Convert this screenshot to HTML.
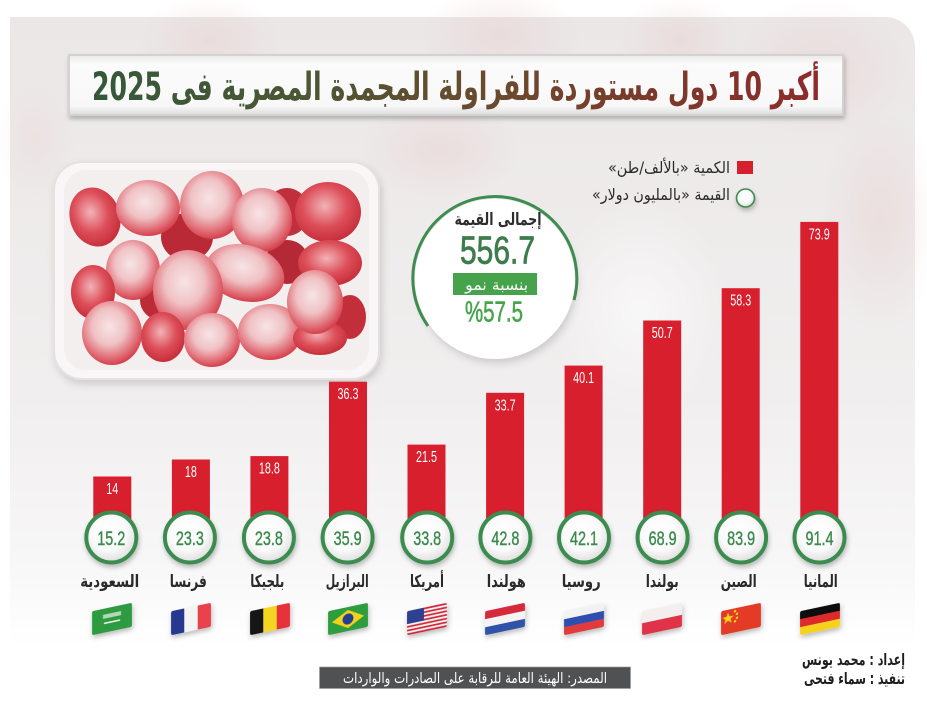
<!DOCTYPE html>
<html><head><meta charset="utf-8">
<style>
html,body{margin:0;padding:0;background:#fff;width:927px;height:720px;overflow:hidden}
svg{display:block}
.ar{font-family:"DejaVu Sans","Liberation Sans",sans-serif}
.num{font-family:"Liberation Sans",sans-serif}
</style></head><body>
<svg width="927" height="720" viewBox="0 0 927 720" xmlns="http://www.w3.org/2000/svg">
<defs>
 <linearGradient id="panel" gradientUnits="userSpaceOnUse" x1="0" y1="17" x2="0" y2="700">
  <stop offset="0" stop-color="#ebe7e7"/>
  <stop offset="0.55" stop-color="#f0eeee"/>
  <stop offset="0.8" stop-color="#f8f7f7"/>
  <stop offset="0.92" stop-color="#ffffff"/>
 </linearGradient>
 <linearGradient id="tbox" x1="0" y1="0" x2="0" y2="1">
  <stop offset="0" stop-color="#e9e9e9"/>
  <stop offset="0.15" stop-color="#fbfbfb"/>
  <stop offset="0.85" stop-color="#f8f8f8"/>
  <stop offset="1" stop-color="#dcdcdc"/>
 </linearGradient>
 <linearGradient id="tg" gradientUnits="userSpaceOnUse" x1="92" y1="0" x2="820" y2="0">
  <stop offset="0" stop-color="#33593a"/>
  <stop offset="0.28" stop-color="#4b5634"/>
  <stop offset="0.55" stop-color="#6a4a2e"/>
  <stop offset="0.8" stop-color="#7e372b"/>
  <stop offset="1" stop-color="#8f2a2b"/>
 </linearGradient>
 <radialGradient id="cf" cx="45%" cy="40%" r="60%">
  <stop offset="0" stop-color="#ffffff"/>
  <stop offset="0.6" stop-color="#fafafa"/>
  <stop offset="1" stop-color="#dedede"/>
 </radialGradient>
 <radialGradient id="bf" cx="45%" cy="40%" r="62%">
  <stop offset="0" stop-color="#f7e4e5"/>
  <stop offset="0.45" stop-color="#f0c2c5"/>
  <stop offset="0.8" stop-color="#e06a73"/>
  <stop offset="1" stop-color="#d23a46"/>
 </radialGradient>
 <radialGradient id="br" cx="45%" cy="40%" r="62%">
  <stop offset="0" stop-color="#f2b3b7"/>
  <stop offset="0.55" stop-color="#dd4f5a"/>
  <stop offset="1" stop-color="#c42c38"/>
 </radialGradient>
 <radialGradient id="faint" cx="50%" cy="50%" r="50%">
  <stop offset="0" stop-color="#e6c6c6" stop-opacity="0.35"/>
  <stop offset="1" stop-color="#e6c6c6" stop-opacity="0"/>
 </radialGradient>
 <radialGradient id="pale" cx="50%" cy="50%" r="50%">
  <stop offset="0" stop-color="#ffffff" stop-opacity="0.6"/>
  <stop offset="1" stop-color="#ffffff" stop-opacity="0"/>
 </radialGradient>
 <filter id="sh" x="-30%" y="-30%" width="160%" height="170%">
  <feDropShadow dx="1" dy="3" stdDeviation="2.5" flood-color="#000" flood-opacity="0.25"/>
 </filter>
 <filter id="sh2" x="-20%" y="-20%" width="140%" height="160%">
  <feDropShadow dx="2" dy="4" stdDeviation="4" flood-color="#000" flood-opacity="0.15"/>
 </filter>
 <clipPath id="fc"><rect x="-20" y="-12" width="40" height="24" rx="2"/></clipPath>
</defs>

<!-- background panel -->
<path d="M10,17 H885 A30,30 0 0 1 915,47 V720 H10 Z" fill="url(#panel)"/>
<!-- faint strawberries -->
<ellipse cx="210" cy="40" rx="70" ry="45" fill="url(#faint)"/>
<ellipse cx="500" cy="35" rx="80" ry="50" fill="url(#faint)"/>
<ellipse cx="680" cy="40" rx="60" ry="45" fill="url(#faint)"/>
<ellipse cx="820" cy="70" rx="90" ry="70" fill="url(#faint)"/>
<ellipse cx="880" cy="220" rx="60" ry="110" fill="url(#faint)"/>
<ellipse cx="35" cy="140" rx="40" ry="60" fill="url(#faint)" opacity="0.6"/>
<ellipse cx="440" cy="150" rx="80" ry="50" fill="url(#faint)"/>
<ellipse cx="640" cy="310" rx="90" ry="110" fill="url(#pale)"/>

<!-- title box -->
<rect x="69" y="55" width="774" height="60" fill="url(#tbox)" stroke="#d2d2d2" stroke-width="2" filter="url(#sh)"/>
<text class="ar" x="456" y="100" font-size="39" font-weight="bold" text-anchor="middle" direction="rtl" textLength="728" lengthAdjust="spacingAndGlyphs" fill="url(#tg)">أكبر 10 دول مستوردة للفراولة المجمدة المصرية فى 2025</text>

<!-- strawberry container -->
<rect x="54" y="162" width="325" height="217" rx="28" fill="#f8f6f6" stroke="#e6e1e1" stroke-width="2" filter="url(#sh2)"/>
<rect x="64" y="170" width="305" height="200" rx="22" fill="#f3efef"/>
<g>
 <ellipse cx="187" cy="237" rx="26" ry="24" fill="#b92a36"/>
 <ellipse cx="287" cy="212" rx="22" ry="24" fill="#c0303c"/>
 <ellipse cx="350" cy="317" rx="16" ry="22" fill="#c22f3b"/>
 <ellipse cx="287" cy="262" rx="22" ry="22" fill="#b52835"/>
 <ellipse cx="160" cy="300" rx="20" ry="20" fill="#bb2c38"/>
 <ellipse cx="95" cy="217" rx="25" ry="30" fill="url(#br)" transform="rotate(-20 95 217)"/>
 <ellipse cx="148" cy="208" rx="32" ry="28" fill="url(#bf)"/>
 <ellipse cx="212" cy="205" rx="32" ry="34" fill="url(#bf)"/>
 <ellipse cx="262" cy="220" rx="30" ry="32" fill="url(#bf)"/>
 <ellipse cx="328" cy="212" rx="33" ry="30" fill="url(#br)"/>
 <ellipse cx="133" cy="270" rx="27" ry="30" fill="url(#bf)"/>
 <ellipse cx="93" cy="292" rx="22" ry="27" fill="url(#br)"/>
 <ellipse cx="330" cy="263" rx="32" ry="23" fill="url(#br)"/>
 <ellipse cx="245" cy="273" rx="40" ry="28" fill="url(#bf)" transform="rotate(15 245 273)"/>
 <ellipse cx="188" cy="290" rx="35" ry="40" fill="url(#bf)"/>
 <ellipse cx="112" cy="333" rx="30" ry="32" fill="url(#bf)"/>
 <ellipse cx="163" cy="337" rx="22" ry="25" fill="url(#br)"/>
 <ellipse cx="212" cy="340" rx="28" ry="27" fill="url(#bf)"/>
 <ellipse cx="270" cy="332" rx="32" ry="28" fill="url(#bf)"/>
 <ellipse cx="320" cy="338" rx="27" ry="17" fill="url(#br)"/>
 <ellipse cx="315" cy="302" rx="28" ry="32" fill="url(#bf)"/>
</g>

<!-- legend -->
<rect x="737" y="161" width="16" height="13" fill="#d6202e"/>
<text class="ar" x="669" y="173" font-size="16" text-anchor="middle" direction="rtl" textLength="122" lengthAdjust="spacingAndGlyphs" fill="#2a2a2a">الكمية «بالألف/طن»</text>
<circle cx="745.5" cy="198" r="9" fill="url(#cf)" stroke="#3e8c50" stroke-width="1.6" filter="url(#sh)"/>
<text class="ar" x="661" y="200" font-size="16" text-anchor="middle" direction="rtl" textLength="138" lengthAdjust="spacingAndGlyphs" fill="#2a2a2a">القيمة «بالمليون دولار»</text>

<!-- total circle -->
<circle cx="495" cy="279" r="80" fill="#ffffff" filter="url(#sh2)"/>
<path d="M428,326 A82,82 0 1 1 574,300" fill="none" stroke="#3e8c50" stroke-width="3"/>
<text class="ar" x="498" y="225" font-size="17" font-weight="bold" text-anchor="middle" direction="rtl" textLength="87" lengthAdjust="spacingAndGlyphs" fill="#2d2d2d">إجمالى القيمة</text>
<text class="num" x="497.5" y="263.5" font-size="39" text-anchor="middle" textLength="75" lengthAdjust="spacingAndGlyphs" fill="#3e7c4b" stroke="#3e7c4b" stroke-width="0.8">556.7</text>
<rect x="453" y="273" width="84" height="22" fill="#46a34b"/>
<text class="ar" x="496.7" y="290" font-size="15" text-anchor="middle" direction="rtl" textLength="63" lengthAdjust="spacingAndGlyphs" fill="#ffffff">بنسبة نمو</text>
<text class="num" x="494" y="321.5" font-size="29" text-anchor="middle" textLength="58" lengthAdjust="spacingAndGlyphs" fill="#47a54c" stroke="#47a54c" stroke-width="0.6">%57.5</text>

<!-- bars -->
<g fill="#d71f2e">
 <rect x="93.3" y="476.5" width="38" height="62"/>
 <rect x="171.9" y="459.5" width="38" height="79"/>
 <rect x="250.4" y="456.1" width="38" height="82"/>
 <rect x="329.0" y="381.7" width="38" height="157"/>
 <rect x="407.5" y="444.6" width="38" height="94"/>
 <rect x="486.1" y="392.8" width="38" height="146"/>
 <rect x="564.6" y="365.6" width="38" height="173"/>
 <rect x="643.2" y="320.5" width="38" height="218"/>
 <rect x="721.7" y="288.2" width="38" height="250"/>
 <rect x="800.3" y="221.9" width="38" height="317"/>
</g>
<g class="num" font-size="16" fill="#ffffff" text-anchor="middle">
 <text x="112.3" y="494" textLength="12" lengthAdjust="spacingAndGlyphs">14</text>
 <text x="190.9" y="477" textLength="12" lengthAdjust="spacingAndGlyphs">18</text>
 <text x="269.4" y="473.6" textLength="21" lengthAdjust="spacingAndGlyphs">18.8</text>
 <text x="348.0" y="399.2" textLength="21" lengthAdjust="spacingAndGlyphs">36.3</text>
 <text x="426.5" y="462.1" textLength="21" lengthAdjust="spacingAndGlyphs">21.5</text>
 <text x="505.1" y="410.3" textLength="21" lengthAdjust="spacingAndGlyphs">33.7</text>
 <text x="583.6" y="383.1" textLength="21" lengthAdjust="spacingAndGlyphs">40.1</text>
 <text x="662.2" y="338" textLength="21" lengthAdjust="spacingAndGlyphs">50.7</text>
 <text x="740.7" y="305.7" textLength="21" lengthAdjust="spacingAndGlyphs">58.3</text>
 <text x="819.3" y="239.4" textLength="21" lengthAdjust="spacingAndGlyphs">73.9</text>
</g>

<!-- value circles -->
<g fill="url(#cf)" stroke="#3e8c50" stroke-width="4" filter="url(#sh)">
 <circle cx="111.3" cy="537.5" r="25"/>
 <circle cx="189.9" cy="537.5" r="25"/>
 <circle cx="268.9" cy="537.5" r="25"/>
 <circle cx="347.6" cy="537.5" r="25"/>
 <circle cx="427.2" cy="537.5" r="25"/>
 <circle cx="505.4" cy="537.5" r="25"/>
 <circle cx="584.0" cy="537.5" r="25"/>
 <circle cx="662.6" cy="537.5" r="25"/>
 <circle cx="741.1" cy="537.5" r="25"/>
 <circle cx="819.5" cy="537.5" r="25"/>
</g>
<g class="num" font-size="19" fill="#3b8a4e" stroke="#3b8a4e" stroke-width="0.4" text-anchor="middle">
 <text x="111.3" y="545" textLength="28" lengthAdjust="spacingAndGlyphs">15.2</text>
 <text x="189.9" y="545" textLength="28" lengthAdjust="spacingAndGlyphs">23.3</text>
 <text x="268.9" y="545" textLength="28" lengthAdjust="spacingAndGlyphs">23.8</text>
 <text x="347.6" y="545" textLength="28" lengthAdjust="spacingAndGlyphs">35.9</text>
 <text x="427.2" y="545" textLength="28" lengthAdjust="spacingAndGlyphs">33.8</text>
 <text x="505.4" y="545" textLength="28" lengthAdjust="spacingAndGlyphs">42.8</text>
 <text x="584.0" y="545" textLength="28" lengthAdjust="spacingAndGlyphs">42.1</text>
 <text x="662.6" y="545" textLength="28" lengthAdjust="spacingAndGlyphs">68.9</text>
 <text x="741.1" y="545" textLength="28" lengthAdjust="spacingAndGlyphs">83.9</text>
 <text x="819.5" y="545" textLength="28" lengthAdjust="spacingAndGlyphs">91.4</text>
</g>

<!-- country names -->
<g class="ar" font-size="17" font-weight="bold" fill="#2a2a2a" text-anchor="middle" direction="rtl">
 <text x="109.7" y="587" textLength="59" lengthAdjust="spacingAndGlyphs">السعودية</text>
 <text x="188.3" y="587" textLength="37" lengthAdjust="spacingAndGlyphs">فرنسا</text>
 <text x="267.3" y="587" textLength="34" lengthAdjust="spacingAndGlyphs">بلجيكا</text>
 <text x="347.2" y="587" textLength="43" lengthAdjust="spacingAndGlyphs">البرازيل</text>
 <text x="427" y="587" textLength="34" lengthAdjust="spacingAndGlyphs">أمريكا</text>
 <text x="506.3" y="587" textLength="39" lengthAdjust="spacingAndGlyphs">هولندا</text>
 <text x="581.2" y="587" textLength="39" lengthAdjust="spacingAndGlyphs">روسيا</text>
 <text x="662.2" y="587" textLength="33" lengthAdjust="spacingAndGlyphs">بولندا</text>
 <text x="738.7" y="587" textLength="36" lengthAdjust="spacingAndGlyphs">الصين</text>
 <text x="820.8" y="587" textLength="34" lengthAdjust="spacingAndGlyphs">المانيا</text>
</g>

<!-- flags -->
<g transform="translate(112,619) skewY(-12)" filter="url(#sh)">
 <g clip-path="url(#fc)">
  <rect x="-20" y="-12" width="40" height="24" fill="#2f9b3f"/>
  <rect x="-9" y="-6" width="18" height="4" fill="#cfe9cf" opacity="0.8"/>
  <rect x="-8" y="2" width="16" height="1.5" fill="#e8f5e8"/>
 </g>
</g>
<g transform="translate(191,619) skewY(-12)" filter="url(#sh)">
 <g clip-path="url(#fc)">
  <rect x="-20" y="-12" width="14" height="24" fill="#27388f"/>
  <rect x="-6.7" y="-12" width="13.4" height="24" fill="#f4f4f4"/>
  <rect x="6.7" y="-12" width="13.4" height="24" fill="#e9434d"/>
 </g>
</g>
<g transform="translate(270,619) skewY(-12)" filter="url(#sh)">
 <g clip-path="url(#fc)">
  <rect x="-20" y="-12" width="14" height="24" fill="#141414"/>
  <rect x="-6.7" y="-12" width="13.4" height="24" fill="#f6d420"/>
  <rect x="6.7" y="-12" width="13.4" height="24" fill="#e6333b"/>
 </g>
</g>
<g transform="translate(348,619) skewY(-12)" filter="url(#sh)">
 <g clip-path="url(#fc)">
  <rect x="-20" y="-12" width="40" height="24" fill="#2e9d3c"/>
  <polygon points="0,-9 16,0 0,9 -16,0" fill="#f4d21c"/>
  <circle cx="0" cy="0" r="5.5" fill="#24408f"/>
 </g>
</g>
<g transform="translate(427,619) skewY(-12)" filter="url(#sh)">
 <g clip-path="url(#fc)">
  <rect x="-20" y="-12" width="40" height="24" fill="#f4f4f4"/>
  <g fill="#d2283a">
   <rect x="-20" y="-12" width="40" height="1.85"/>
   <rect x="-20" y="-8.3" width="40" height="1.85"/>
   <rect x="-20" y="-4.6" width="40" height="1.85"/>
   <rect x="-20" y="-0.9" width="40" height="1.85"/>
   <rect x="-20" y="2.8" width="40" height="1.85"/>
   <rect x="-20" y="6.5" width="40" height="1.85"/>
   <rect x="-20" y="10.2" width="40" height="1.85"/>
  </g>
  <rect x="-20" y="-12" width="17" height="13" fill="#2d3f8f"/>
 </g>
</g>
<g transform="translate(505,619) skewY(-12)" filter="url(#sh)">
 <g clip-path="url(#fc)">
  <rect x="-20" y="-12" width="40" height="8" fill="#d52b3a"/>
  <rect x="-20" y="-4" width="40" height="8" fill="#f4f4f4"/>
  <rect x="-20" y="4" width="40" height="8" fill="#2e52a8"/>
 </g>
</g>
<g transform="translate(584,619) skewY(-12)" filter="url(#sh)">
 <g clip-path="url(#fc)">
  <rect x="-20" y="-12" width="40" height="8" fill="#f2f2f2"/>
  <rect x="-20" y="-4" width="40" height="8" fill="#2f4fb0"/>
  <rect x="-20" y="4" width="40" height="8" fill="#e23a3a"/>
 </g>
</g>
<g transform="translate(662,619) skewY(-12)" filter="url(#sh)">
 <g clip-path="url(#fc)">
  <rect x="-20" y="-12" width="40" height="12" fill="#f4eeee"/>
  <rect x="-20" y="0" width="40" height="12" fill="#e0304a"/>
 </g>
</g>
<g transform="translate(741,619) skewY(-12)" filter="url(#sh)">
 <g clip-path="url(#fc)">
  <rect x="-20" y="-12" width="40" height="24" fill="#e43a25"/>
  <polygon points="-13,-9 -11.5,-5 -7.5,-5 -10.5,-2.5 -9.5,1.5 -13,-1 -16.5,1.5 -15.5,-2.5 -18.5,-5 -14.5,-5" fill="#f8d81c"/>
  <circle cx="-6" cy="-9" r="1.2" fill="#f8d81c"/>
  <circle cx="-4" cy="-6" r="1.2" fill="#f8d81c"/>
  <circle cx="-4" cy="-2" r="1.2" fill="#f8d81c"/>
  <circle cx="-6" cy="1" r="1.2" fill="#f8d81c"/>
 </g>
</g>
<g transform="translate(820,619) skewY(-12)" filter="url(#sh)">
 <g clip-path="url(#fc)">
  <rect x="-20" y="-12" width="40" height="8" fill="#111111"/>
  <rect x="-20" y="-4" width="40" height="8" fill="#dd2a2a"/>
  <rect x="-20" y="4" width="40" height="8" fill="#f7d21b"/>
 </g>
</g>

<!-- credits -->
<text class="ar" x="853.5" y="665" font-size="16" font-weight="bold" text-anchor="middle" direction="rtl" textLength="103" lengthAdjust="spacingAndGlyphs" fill="#1e1e1e">إعداد : محمد يونس</text>
<text class="ar" x="854.5" y="684" font-size="16" font-weight="bold" text-anchor="middle" direction="rtl" textLength="101" lengthAdjust="spacingAndGlyphs" fill="#1e1e1e">تنفيذ : سماء فتحى</text>

<!-- source -->
<rect x="319.5" y="667" width="311" height="21.5" fill="#505152" stroke="#9a9a9a" stroke-width="0.6"/>
<text class="ar" x="475" y="683" font-size="14.5" text-anchor="middle" direction="rtl" textLength="264" lengthAdjust="spacingAndGlyphs" fill="#ffffff">المصدر: الهيئة العامة للرقابة على الصادرات والواردات</text>
</svg>
</body></html>
